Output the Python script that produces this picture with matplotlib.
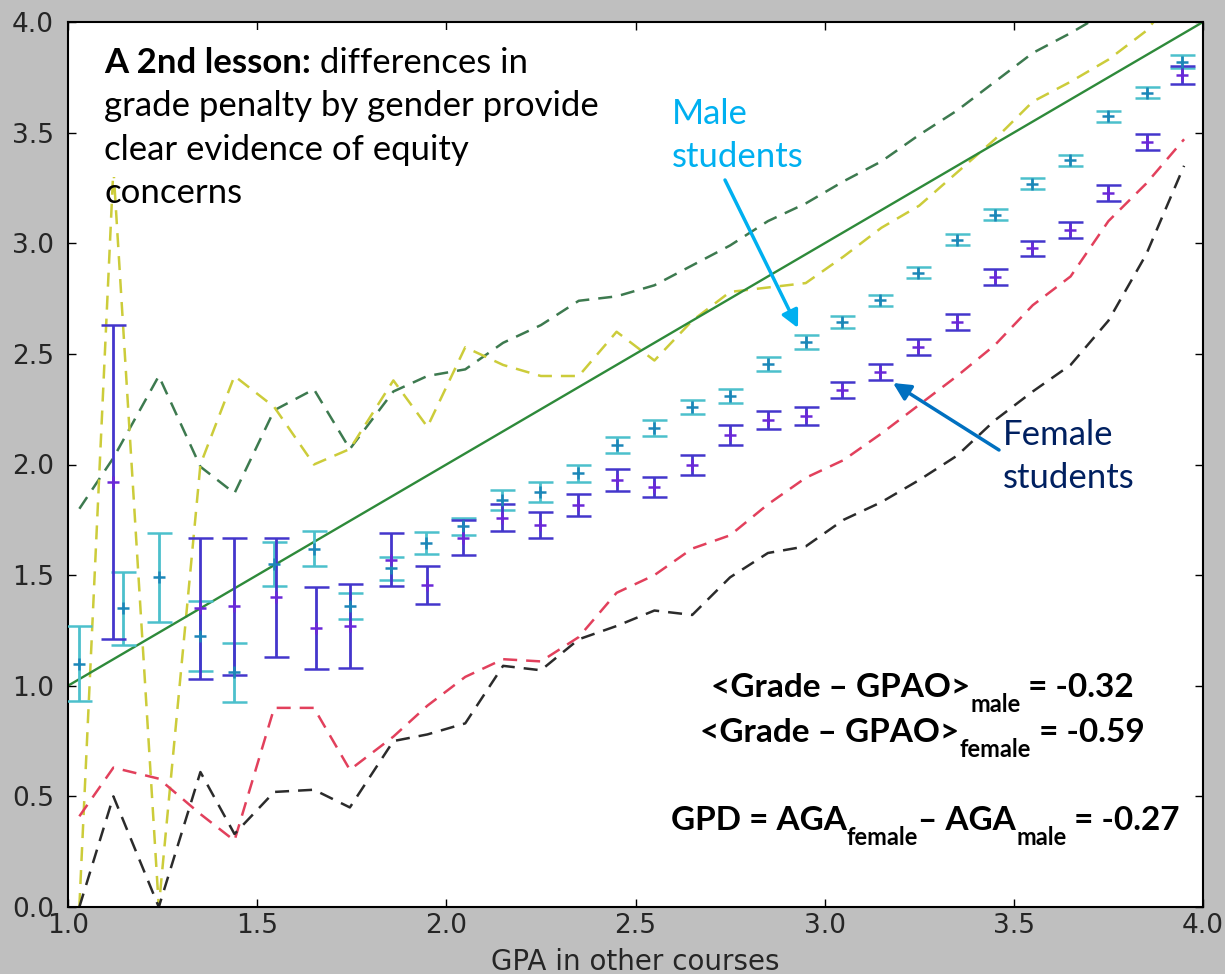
import matplotlib
matplotlib.use("Agg")
import matplotlib.pyplot as plt
from matplotlib.patches import Rectangle

# Mean course grade per GPAO bin, with standard error of the mean
male_gpao = [1.03, 1.145, 1.24, 1.35, 1.44, 1.545, 1.65, 1.745, 1.855, 1.945,
             2.045, 2.148, 2.248, 2.348, 2.45, 2.55, 2.65, 2.75, 2.85, 2.95,
             3.046, 3.146, 3.247, 3.35, 3.45, 3.548, 3.649, 3.749, 3.852, 3.945]
male_grade = [1.10, 1.35, 1.49, 1.225, 1.06, 1.55, 1.62, 1.36, 1.53, 1.645,
              1.72, 1.84, 1.876, 1.96, 2.088, 2.165, 2.26, 2.31, 2.454, 2.554,
              2.644, 2.743, 2.866, 3.015, 3.128, 3.27, 3.376, 3.575, 3.68, 3.82]
male_sem = [0.17, 0.165, 0.20, 0.16, 0.135, 0.10, 0.08, 0.06, 0.05, 0.05,
            0.04, 0.045, 0.045, 0.04, 0.035, 0.035, 0.03, 0.03, 0.03, 0.03,
            0.025, 0.025, 0.025, 0.025, 0.025, 0.025, 0.025, 0.025, 0.025, 0.03]

female_gpao = [1.118, 1.35, 1.44, 1.55, 1.656, 1.745, 1.855, 1.949, 2.045, 2.148,
               2.248, 2.348, 2.45, 2.55, 2.65, 2.75, 2.85, 2.95, 3.046, 3.146,
               3.247, 3.35, 3.45, 3.548, 3.649, 3.749, 3.852, 3.945]
female_grade = [1.92, 1.35, 1.36, 1.40, 1.26, 1.27, 1.57, 1.455, 1.67, 1.76,
                1.726, 1.817, 1.93, 1.898, 1.998, 2.133, 2.20, 2.22, 2.337, 2.418,
                2.53, 2.644, 2.848, 2.977, 3.06, 3.227, 3.458, 3.76]
female_sem = [0.71, 0.32, 0.31, 0.27, 0.185, 0.19, 0.12, 0.085, 0.08, 0.06,
              0.06, 0.05, 0.05, 0.045, 0.045, 0.045, 0.04, 0.04, 0.035, 0.035,
              0.035, 0.035, 0.035, 0.035, 0.035, 0.035, 0.035, 0.04]

# Mean +/- one standard deviation bands
band_gpao = [1.03, 1.12, 1.24, 1.35, 1.44, 1.545, 1.65, 1.745, 1.86, 1.95,
             2.05, 2.15, 2.25, 2.35, 2.45, 2.55, 2.65, 2.75, 2.85, 2.95,
             3.05, 3.15, 3.25, 3.35, 3.45, 3.55, 3.65, 3.75, 3.85, 3.95]
male_upper = [1.80, 2.03, 2.40, 1.99, 1.87, 2.245, 2.34, 2.07, 2.33, 2.40,
              2.43, 2.55, 2.63, 2.74, 2.76, 2.81, 2.90, 2.99, 3.10, 3.18,
              3.28, 3.37, 3.49, 3.60, 3.73, 3.86, 3.95, 4.05, 4.09, 4.17]
male_lower = [0.41, 0.63, 0.58, 0.42, 0.30, 0.90, 0.90, 0.62, 0.77, 0.91,
              1.04, 1.12, 1.11, 1.22, 1.42, 1.50, 1.62, 1.68, 1.82, 1.94,
              2.02, 2.14, 2.27, 2.40, 2.54, 2.72, 2.85, 3.10, 3.27, 3.47]
female_upper = [0.0, 3.34, 0.0, 2.00, 2.40, 2.26, 2.00, 2.07, 2.38, 2.17,
                2.53, 2.45, 2.40, 2.40, 2.60, 2.47, 2.65, 2.78, 2.80, 2.82,
                2.94, 3.07, 3.17, 3.32, 3.47, 3.64, 3.73, 3.83, 3.96, 4.17]
female_lower = [0.0, 0.50, 0.0, 0.61, 0.33, 0.52, 0.53, 0.45, 0.75, 0.78,
                0.83, 1.09, 1.07, 1.21, 1.27, 1.34, 1.32, 1.49, 1.60, 1.63,
                1.75, 1.83, 1.93, 2.04, 2.20, 2.33, 2.45, 2.65, 2.95, 3.35]

# grade == GPAO reference line
diag_x = [1.0, 4.0]
diag_y = [1.0, 4.0]

ticks = [0.0, 0.5, 1.0, 1.5, 2.0, 2.5, 3.0, 3.5, 4.0]
tick_labels = ["0.0", "0.5", "1.0", "1.5", "2.0", "2.5", "3.0", "3.5", "4.0"]
x_ticks = ticks[2:]
x_tick_labels = tick_labels[2:]

lesson_lines = ["grade penalty by gender provide", "clear evidence of equity", "concerns"]

SLIDE_FONT = ["Lato", "DejaVu Sans"]
BODY = 25

fig = plt.figure(figsize=(12.25, 9.74), dpi=100, facecolor="#bfbfbf")
ax = fig.add_axes([68 / 1225, 1 - 907 / 974, 1135 / 1225, 885 / 974])
ax.set_facecolor("white")

dash = (5.6, 3.6)
ax.plot(band_gpao, male_upper, color="#3d7a4f", lw=1.8, dashes=dash)
ax.plot(band_gpao, female_upper, color="#cccc3a", lw=1.8, dashes=dash)
ax.plot(band_gpao, male_lower, color="#e2405c", lw=1.8, dashes=dash)
ax.plot(band_gpao, female_lower, color="#2b2b2b", lw=1.8, dashes=dash)
ax.plot(diag_x, diag_y, color="#2e8a3a", lw=1.7)

ax.errorbar(male_gpao, male_grade, yerr=male_sem, fmt="+", color="#1c86b8",
            ecolor="#4cc0cc", elinewidth=2.0, capsize=9, capthick=1.8,
            markersize=9, mew=1.8, zorder=3)
ax.errorbar(female_gpao, female_grade, yerr=female_sem, fmt="+", color="#6a28d8",
            ecolor="#4436cc", elinewidth=2.0, capsize=9, capthick=1.8,
            markersize=9, mew=1.8, zorder=3)

ax.set_xlim(1.0, 4.0)
ax.set_ylim(0.0, 4.0)
ax.set_xticks(x_ticks)
ax.set_xticklabels(x_tick_labels)
ax.set_yticks(ticks)
ax.set_yticklabels(tick_labels)
ax.tick_params(direction="in", length=6, width=1, top=True, right=True,
               labelsize=19, labelcolor="#262626")
ax.tick_params(axis="x", pad=4)
ax.tick_params(axis="y", pad=10)
for sp in ax.spines.values():
    sp.set_linewidth(1.5)
ax.set_xlabel("GPA in other courses", fontsize=20, color="#262626", labelpad=7)


def px(x, y):
    """Figure pixel position -> axes fraction."""
    return (x - 68) / 1135, (907 - y) / 885


def draw_pieces(x, y, pieces, size=24, sub_size=17, drop=15, color="black"):
    """Lay out a run of text pieces left to right; sub pieces sit lower."""
    ax_x, ax_y = px(x, y)
    sub_y = px(x, y + drop)[1]
    prev = None
    for s, sub in pieces:
        fs = sub_size if sub else size
        yy = sub_y if sub else ax_y
        if prev is None:
            t = ax.text(ax_x, yy, s, transform=ax.transAxes, fontsize=fs,
                        fontweight="bold", family=SLIDE_FONT, color=color,
                        va="baseline", ha="left", zorder=6)
        else:
            t = ax.annotate(s, xy=(1, yy), xycoords=(prev, "axes fraction"),
                            fontsize=fs, fontweight="bold", family=SLIDE_FONT,
                            color=color, va="baseline", ha="left", zorder=6)
        prev = t
    return prev


# white text box in the upper left
x0, y0 = px(88, 177)
x1, y1 = px(610, 30)
ax.add_patch(Rectangle((x0, y0), x1 - x0, y1 - y0, transform=ax.transAxes,
                       facecolor="white", edgecolor="none", zorder=5))

lx, ly = px(104, 73)
head = ax.text(lx, ly, "A 2nd lesson:", transform=ax.transAxes, fontsize=BODY,
               fontweight="bold", family=SLIDE_FONT, va="baseline", zorder=6)
ax.annotate(" differences in", xy=(1, ly), xycoords=(head, "axes fraction"),
            fontsize=BODY, family=SLIDE_FONT, va="baseline", zorder=6)
for i, line in enumerate(lesson_lines):
    tx, ty = px(104, 73 + 43.4 * (i + 1))
    ax.text(tx, ty, line, transform=ax.transAxes, fontsize=BODY,
            family=SLIDE_FONT, va="baseline", zorder=6)

# group labels with arrows
for i, line in enumerate(["Male", "students"]):
    tx, ty = px(672, 124 + 43 * i)
    ax.text(tx, ty, line, transform=ax.transAxes, fontsize=BODY,
            family=SLIDE_FONT, color="#00b0f0", va="baseline", zorder=6)
for i, line in enumerate(["Female", "students"]):
    tx, ty = px(1003, 445 + 43 * i)
    ax.text(tx, ty, line, transform=ax.transAxes, fontsize=BODY,
            family=SLIDE_FONT, color="#002060", va="baseline", zorder=6)

ax.annotate("", xy=px(798, 328), xytext=px(725, 180),
            xycoords="axes fraction", textcoords="axes fraction",
            arrowprops=dict(arrowstyle="-|>", color="#00b0f0", lw=2.5,
                            mutation_scale=26, shrinkA=0, shrinkB=0), zorder=6)
ax.annotate("", xy=px(893, 383), xytext=px(999, 450),
            xycoords="axes fraction", textcoords="axes fraction",
            arrowprops=dict(arrowstyle="-|>", color="#0070c0", lw=2.5,
                            mutation_scale=26, shrinkA=0, shrinkB=0), zorder=6)

# summary statistics
draw_pieces(711, 697, [("<Grade \u2013 GPAO>", False), ("male", True), (" = -0.32", False)])
draw_pieces(700, 742, [("<Grade \u2013 GPAO>", False), ("female", True), (" = -0.59", False)])
draw_pieces(671, 830, [("GPD = AGA", False), ("female", True), ("\u2013 AGA", False),
                       ("male", True), (" = -0.27", False)])

fig.savefig("out.png", dpi=100, facecolor=fig.get_facecolor())
